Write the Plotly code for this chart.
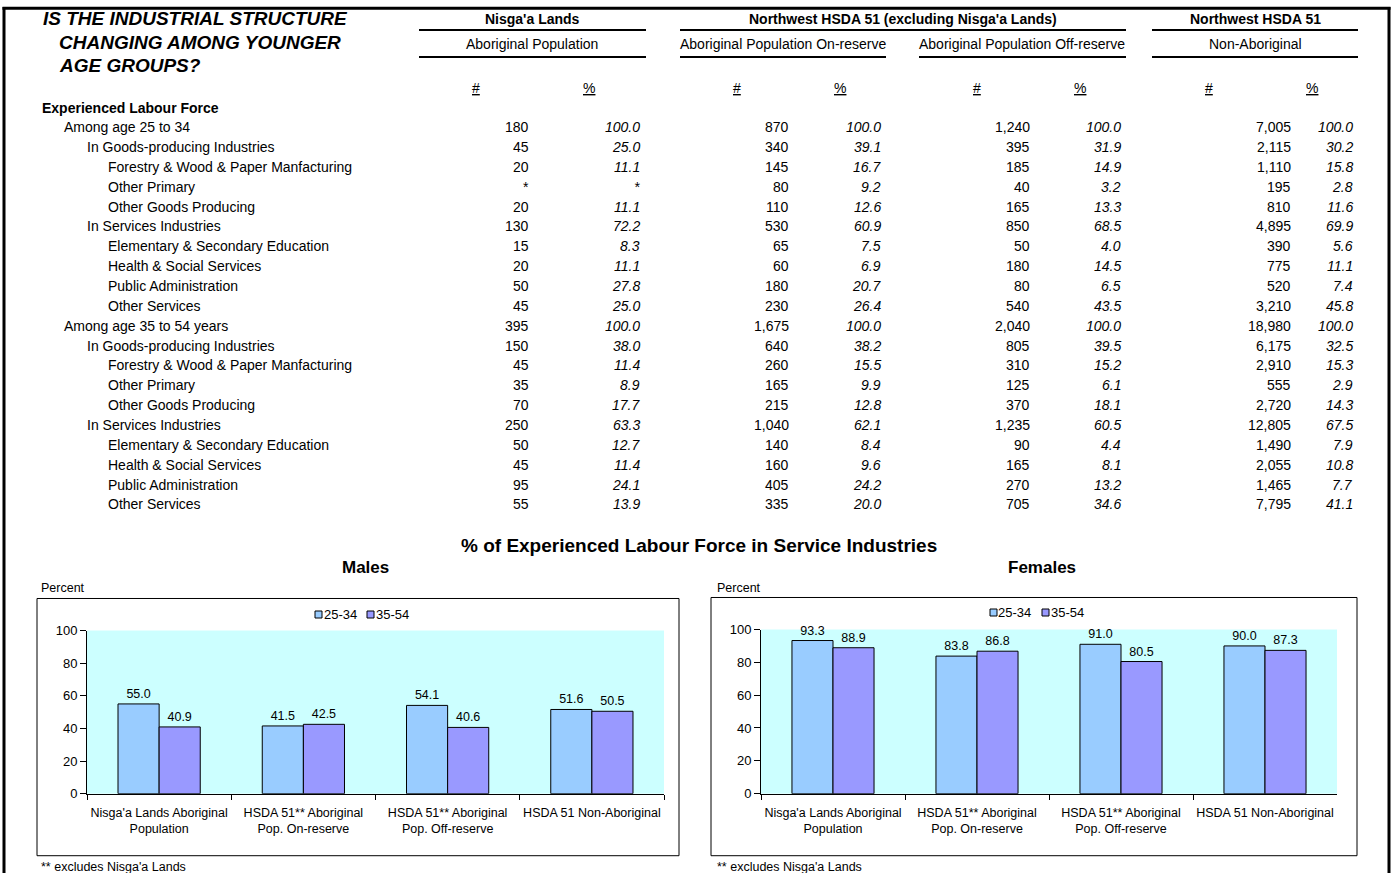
import plotly.graph_objects as go

W, H = 1392, 873
FONT = "Arial, Liberation Sans, sans-serif"

# ---------------- table data ----------------
row_labels = [
    "Among age 25 to 34", "In Goods-producing Industries", "Forestry & Wood & Paper Manfacturing",
    "Other Primary", "Other Goods Producing", "In Services Industries",
    "Elementary & Secondary Education", "Health & Social Services", "Public Administration",
    "Other Services",
    "Among age 35 to 54 years", "In Goods-producing Industries", "Forestry & Wood & Paper Manfacturing",
    "Other Primary", "Other Goods Producing", "In Services Industries",
    "Elementary & Secondary Education", "Health & Social Services", "Public Administration",
    "Other Services",
]
row_levels = [0, 1, 2, 2, 2, 1, 2, 2, 2, 2] * 2

nisgaa_n = [180, 45, 20, None, 20, 130, 15, 20, 50, 45,
            395, 150, 45, 35, 70, 250, 50, 45, 95, 55]
nisgaa_pct = [100.0, 25.0, 11.1, None, 11.1, 72.2, 8.3, 11.1, 27.8, 25.0,
              100.0, 38.0, 11.4, 8.9, 17.7, 63.3, 12.7, 11.4, 24.1, 13.9]
onres_n = [870, 340, 145, 80, 110, 530, 65, 60, 180, 230,
           1675, 640, 260, 165, 215, 1040, 140, 160, 405, 335]
onres_pct = [100.0, 39.1, 16.7, 9.2, 12.6, 60.9, 7.5, 6.9, 20.7, 26.4,
             100.0, 38.2, 15.5, 9.9, 12.8, 62.1, 8.4, 9.6, 24.2, 20.0]
offres_n = [1240, 395, 185, 40, 165, 850, 50, 180, 80, 540,
            2040, 805, 310, 125, 370, 1235, 90, 165, 270, 705]
offres_pct = [100.0, 31.9, 14.9, 3.2, 13.3, 68.5, 4.0, 14.5, 6.5, 43.5,
              100.0, 39.5, 15.2, 6.1, 18.1, 60.5, 4.4, 8.1, 13.2, 34.6]
nonab_n = [7005, 2115, 1110, 195, 810, 4895, 390, 775, 520, 3210,
           18980, 6175, 2910, 555, 2720, 12805, 1490, 2055, 1465, 7795]
nonab_pct = [100.0, 30.2, 15.8, 2.8, 11.6, 69.9, 5.6, 11.1, 7.4, 45.8,
             100.0, 32.5, 15.3, 2.9, 14.3, 67.5, 7.9, 10.8, 7.7, 41.1]

# ---------------- chart data ----------------
categories = ["Nisga'a Lands Aboriginal<br>Population", "HSDA 51** Aboriginal<br>Pop. On-reserve",
              "HSDA 51** Aboriginal<br>Pop. Off-reserve", "HSDA 51 Non-Aboriginal"]
age_groups = ["25-34", "35-54"]
males_25_34 = [55.0, 41.5, 54.1, 51.6]
males_35_54 = [40.9, 42.5, 40.6, 50.5]
females_25_34 = [93.3, 83.8, 91.0, 90.0]
females_35_54 = [88.9, 86.8, 80.5, 87.3]

C_BLUE = "#99CCFF"
C_PURPLE = "#9999FF"
C_BG = "#CCFFFF"

# observed page placement: vertical offset / scale of the rendered figure
V_OFF, V_SCALE = 7.0, 0.982


def X(px):
    return px / W


def Y(py):
    return 1 - ((py - V_OFF) / V_SCALE) / H


ann = []
shapes = []


def text(x, y, s, size=14, xanchor="left", bold=False, italic=False, yanchor="middle"):
    if bold:
        s = "<b>" + s + "</b>"
    if italic:
        s = "<i>" + s + "</i>"
    ann.append(dict(x=X(x), y=Y(y), xref="paper", yref="paper", text=s, showarrow=False,
                    xanchor=xanchor, yanchor=yanchor, font=dict(family=FONT, size=size, color="black"),
                    borderpad=0))


def hline(x0, x1, y, w=2):
    shapes.append(dict(type="line", xref="paper", yref="paper", x0=X(x0), x1=X(x1), y0=Y(y), y1=Y(y),
                       line=dict(color="black", width=w)))


def rect(x0, y0, x1, y1, w=1):
    shapes.append(dict(type="rect", xref="paper", yref="paper", x0=X(x0), x1=X(x1), y0=Y(y0), y1=Y(y1),
                       line=dict(color="black", width=w), fillcolor="rgba(0,0,0,0)"))


# page border
shapes.append(dict(type="line", xref="paper", yref="paper", x0=X(4), x1=X(4), y0=1.0, y1=-0.02,
                   line=dict(color="black", width=3)))
shapes.append(dict(type="line", xref="paper", yref="paper", x0=X(2.5), x1=X(1390.5), y0=1 - 1.2 / H, y1=1 - 1.2 / H,
                   line=dict(color="black", width=3)))
shapes.append(dict(type="line", xref="paper", yref="paper", x0=X(1389), x1=X(1389), y0=1.0, y1=-0.02,
                   line=dict(color="black", width=3)))

# title
text(42, 18, "IS THE INDUSTRIAL STRUCTURE", size=19, bold=True, italic=True)
text(58, 42, "CHANGING AMONG YOUNGER", size=19, bold=True, italic=True)
text(58, 65, "AGE GROUPS?", size=19, bold=True, italic=True)

# headers
HS = 14
text(532, 19, "Nisga'a Lands", size=HS, xanchor="center", bold=True)
hline(419, 646, 30)
text(532, 44, "Aboriginal Population", size=HS, xanchor="center")
hline(419, 646, 57)

text(903, 19, "Northwest HSDA 51 (excluding Nisga'a Lands)", size=HS, xanchor="center", bold=True)
hline(680, 1126, 30)
text(783, 44, "Aboriginal Population On-reserve", size=HS, xanchor="center")
hline(680, 886, 57)
text(1022, 44, "Aboriginal Population Off-reserve", size=HS, xanchor="center")
hline(919, 1126, 57)

text(1255, 19, "Northwest HSDA 51", size=HS, xanchor="center", bold=True)
hline(1152, 1358, 30)
text(1255, 44, "Non-Aboriginal", size=HS, xanchor="center")
hline(1152, 1358, 57)

for cx in [476, 737, 977, 1209]:
    text(cx, 88, "<u>#</u>", size=14, xanchor="center")
for cx in [589, 840, 1080, 1312]:
    text(cx, 88, "<u>%</u>", size=14, xanchor="center")

text(41, 108, "Experienced Labour Force", size=14, bold=True)

indent_x = {0: 63, 1: 86, 2: 107}
row_y0, row_step = 127, (504 - 127) / 19
columns = [
    (nisgaa_n, 530, False), (nisgaa_pct, 641, True),
    (onres_n, 790, False), (onres_pct, 882, True),
    (offres_n, 1031, False), (offres_pct, 1122, True),
    (nonab_n, 1292, False), (nonab_pct, 1354, True),
]
for i, (lab, lev) in enumerate(zip(row_labels, row_levels)):
    y = row_y0 + i * row_step
    text(indent_x[lev], y, lab, size=14)
    for vals, xr, is_pct in columns:
        v = vals[i]
        if v is None:
            s = "*"
        elif is_pct:
            s = f"{v:.1f}"
        else:
            s = f"{v:,}"
        text(xr, y, s, size=14, xanchor="right", italic=is_pct)

# chart titles
text(699, 545, "% of Experienced Labour Force in Service Industries", size=19, xanchor="center", bold=True)
text(365, 567, "Males", size=17, xanchor="center", bold=True)
text(1042, 567, "Females", size=17, xanchor="center", bold=True)
text(40, 588, "Percent", size=12.5)
text(716, 588, "Percent", size=12.5)
text(40, 866, "** excludes Nisga'a Lands", size=12.5)
text(716, 866, "** excludes Nisga'a Lands", size=12.5)

# chart frames
rect(37, 598, 679, 855)
rect(711, 597, 1357, 855)

# manual legends
for (lx, ly) in [(315, 614), (990, 612)]:
    shapes.append(dict(type="rect", xref="paper", yref="paper", x0=X(lx), x1=X(lx + 7), y0=Y(ly + 3.5), y1=Y(ly - 3.5),
                       line=dict(color="black", width=1), fillcolor=C_BLUE))
    text(lx + 7.5, ly, age_groups[0], size=13)
    shapes.append(dict(type="rect", xref="paper", yref="paper", x0=X(lx + 52), x1=X(lx + 59), y0=Y(ly + 3.5), y1=Y(ly - 3.5),
                       line=dict(color="black", width=1), fillcolor=C_PURPLE))
    text(lx + 59.5, ly, age_groups[1], size=13)

fig = go.Figure()

series = [
    (males_25_34, age_groups[0], C_BLUE, "x", "y"),
    (males_35_54, age_groups[1], C_PURPLE, "x", "y"),
    (females_25_34, age_groups[0], C_BLUE, "x2", "y2"),
    (females_35_54, age_groups[1], C_PURPLE, "x2", "y2"),
]
for vals, name, col, xa, ya in series:
    fig.add_trace(go.Bar(
        x=categories, y=vals, name=name, xaxis=xa, yaxis=ya,
        marker=dict(color=col, line=dict(color="black", width=1)),
        texttemplate="%{y:.1f}", textposition="outside", cliponaxis=False,
        textfont=dict(family=FONT, size=12.5, color="black"),
        showlegend=False,
    ))

yaxis_common = dict(range=[0, 100], tickvals=[0, 20, 40, 60, 80, 100], ticks="outside", ticklen=6,
                    tickcolor="black", showline=True, linecolor="black", linewidth=1, showgrid=False,
                    zeroline=False, tickfont=dict(family=FONT, size=13, color="black"), fixedrange=True)
xaxis_common = dict(ticks="outside", ticklen=5, tickcolor="black", tickson="boundaries", showline=True,
                    linecolor="black", linewidth=1, showgrid=False, ticklabelstandoff=7, tickangle=0,
                    tickfont=dict(family=FONT, size=12.5, color="black"), fixedrange=True)

fig.update_layout(
    width=W, height=H, margin=dict(l=0, r=0, t=0, b=0),
    paper_bgcolor="white", plot_bgcolor=C_BG,
    barmode="group", bargap=0.43, bargroupgap=0,
    xaxis=dict(domain=[X(87), X(664)], anchor="y", **xaxis_common),
    yaxis=dict(domain=[Y(793), Y(630)], anchor="x", **yaxis_common),
    xaxis2=dict(domain=[X(761), X(1337)], anchor="y2", **xaxis_common),
    yaxis2=dict(domain=[Y(793), Y(629)], anchor="x2", **yaxis_common),
    annotations=ann, shapes=shapes, showlegend=False,
    font=dict(family=FONT, color="black"),
)

fig.write_html("out.html", config={"displayModeBar": False},
               post_script="document.body.style.margin='0';")
